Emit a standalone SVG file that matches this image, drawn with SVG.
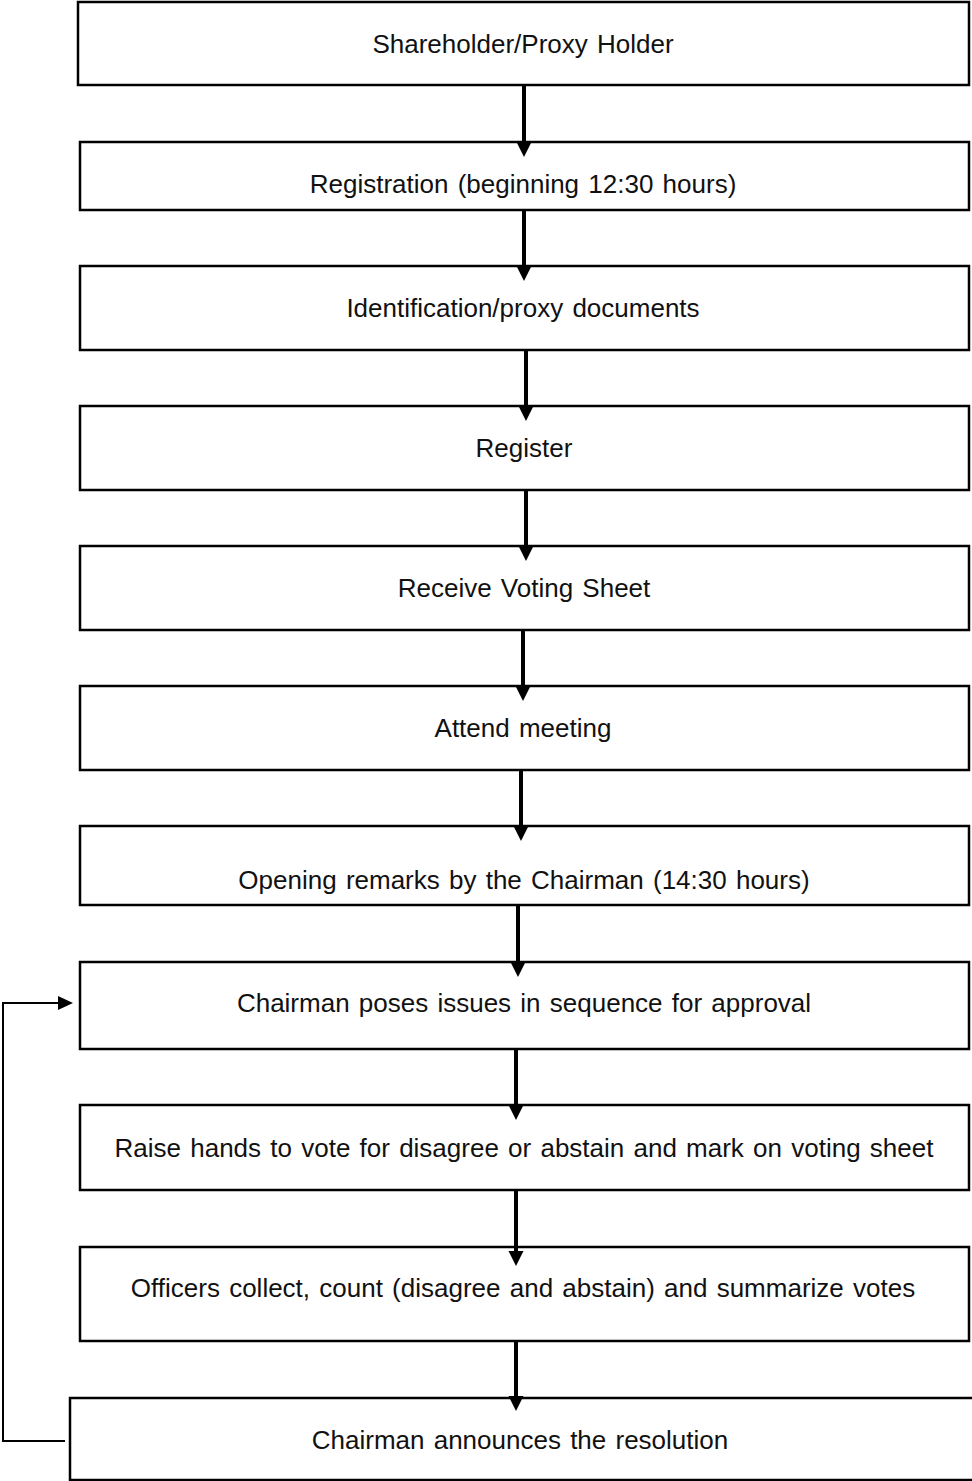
<svg xmlns="http://www.w3.org/2000/svg" width="972" height="1481" viewBox="0 0 972 1481">
<style>
.box{fill:#fff;stroke:#000;stroke-width:2.5}
.lbl{font-family:"Liberation Sans",Arial,sans-serif;font-size:26px;word-spacing:2px;fill:#111;text-anchor:middle}
.arr{stroke:#000;stroke-width:4;fill:none}
.loop{stroke:#000;stroke-width:2;fill:none}
</style>
<defs>
<marker id="ah" markerUnits="userSpaceOnUse" markerWidth="16" markerHeight="16" refX="1" refY="7.5" orient="auto" overflow="visible">
<path d="M0,0 L15,7.5 L0,15 Z" fill="#000"/>
</marker>
<marker id="ah2" markerUnits="userSpaceOnUse" markerWidth="16" markerHeight="14" refX="1" refY="7" orient="auto" overflow="visible">
<path d="M0,0 L15,7 L0,14 Z" fill="#000"/>
</marker>
</defs>
<g id="n1"><rect class="box" x="78" y="2" width="891" height="83"/><text class="lbl" x="523" y="53">Shareholder/Proxy Holder</text></g>
<g id="n2"><rect class="box" x="80" y="142" width="889" height="68"/><text class="lbl" x="523" y="193">Registration (beginning 12:30 hours)</text></g>
<g id="n3"><rect class="box" x="80" y="266" width="889" height="84"/><text class="lbl" x="523" y="317">Identification/proxy documents</text></g>
<g id="n4"><rect class="box" x="80" y="406" width="889" height="84"/><text class="lbl" x="524" y="457">Register</text></g>
<g id="n5"><rect class="box" x="80" y="546" width="889" height="84"/><text class="lbl" x="524" y="597">Receive Voting Sheet</text></g>
<g id="n6"><rect class="box" x="80" y="686" width="889" height="84"/><text class="lbl" x="523" y="737">Attend meeting</text></g>
<g id="n7"><rect class="box" x="80" y="826" width="889" height="79"/><text class="lbl" x="524" y="889">Opening remarks by the Chairman (14:30 hours)</text></g>
<g id="n8"><rect class="box" x="80" y="962" width="889" height="87"/><text class="lbl" x="524" y="1012">Chairman poses issues in sequence for approval</text></g>
<g id="n9"><rect class="box" x="80" y="1105" width="889" height="85"/><text class="lbl" x="524" y="1157">Raise hands to vote for disagree or abstain and mark on voting sheet</text></g>
<g id="n10"><rect class="box" x="80" y="1247" width="889" height="94"/><text class="lbl" x="523" y="1297">Officers collect, count (disagree and abstain) and summarize votes</text></g>
<g id="n11"><rect class="box" x="70" y="1398" width="906" height="82"/><text class="lbl" x="520" y="1449">Chairman announces the resolution</text></g>
<g id="connectors">
<line class="arr" x1="524" y1="85" x2="524" y2="143" marker-end="url(#ah)"/>
<line class="arr" x1="524" y1="210" x2="524" y2="267" marker-end="url(#ah)"/>
<line class="arr" x1="526" y1="350" x2="526" y2="407" marker-end="url(#ah)"/>
<line class="arr" x1="526" y1="490" x2="526" y2="547" marker-end="url(#ah)"/>
<line class="arr" x1="523" y1="630" x2="523" y2="687" marker-end="url(#ah)"/>
<line class="arr" x1="521" y1="770" x2="521" y2="827" marker-end="url(#ah)"/>
<line class="arr" x1="518" y1="905" x2="518" y2="963" marker-end="url(#ah)"/>
<line class="arr" x1="516" y1="1049" x2="516" y2="1106" marker-end="url(#ah)"/>
<line class="arr" x1="516" y1="1190" x2="516" y2="1252" marker-end="url(#ah)"/>
<line class="arr" x1="516" y1="1341" x2="516" y2="1397" marker-end="url(#ah)"/>
<polyline class="loop" points="65,1441 3,1441 3,1003 59,1003" marker-end="url(#ah2)"/>
</g>
</svg>
